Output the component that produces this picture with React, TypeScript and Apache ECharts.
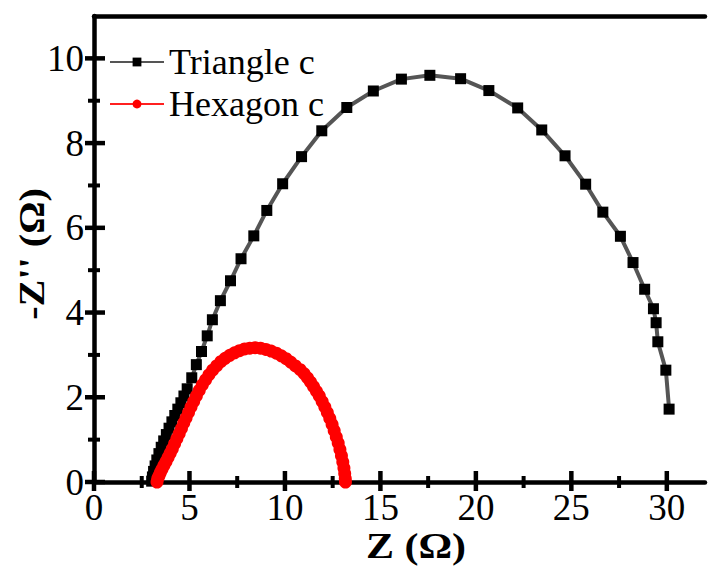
import React, { useEffect, useRef } from "react";
import * as echarts from "echarts";

const xTicks = [0, 5, 10, 15, 20, 25, 30];
const xMinorTicks = [2.5, 7.5, 12.5, 17.5, 22.5, 27.5];
const yTicks = [0, 2, 4, 6, 8, 10];
const yMinorTicks = [1, 3, 5, 7, 9];

const seriesNames = ["Triangle c", "Hexagon c"];

const triangleC: [number, number][] = [
  [3.02, 0.02], [3.06, 0.12], [3.12, 0.25], [3.2, 0.38], [3.29, 0.52], [3.4, 0.67],
  [3.52, 0.82], [3.65, 0.97], [3.79, 1.12], [3.93, 1.27], [4.08, 1.42], [4.23, 1.57],
  [4.39, 1.72], [4.55, 1.87], [4.71, 2.03], [4.88, 2.2], [5.12, 2.46], [5.36, 2.77],
  [5.63, 3.08], [5.93, 3.45], [6.2, 3.83], [6.62, 4.28], [7.15, 4.75], [7.7, 5.27],
  [8.37, 5.81], [9.05, 6.41], [9.88, 7.04], [10.87, 7.68], [11.93, 8.29], [13.24, 8.84],
  [14.63, 9.23], [16.1, 9.51], [17.59, 9.6], [19.2, 9.52], [20.68, 9.24], [22.19, 8.83],
  [23.45, 8.31], [24.67, 7.7], [25.75, 7.03], [26.65, 6.37], [27.57, 5.8], [28.23, 5.18],
  [28.84, 4.55], [29.3, 4.09], [29.44, 3.76], [29.53, 3.31], [29.95, 2.64], [30.12, 1.72],
];

const hexagonC: [number, number][] = [
  [3.3, 0.0], [3.34, 0.08], [3.4, 0.14], [3.47, 0.22], [3.56, 0.3], [3.66, 0.39],
  [3.77, 0.48], [3.88, 0.58], [3.99, 0.68], [4.1, 0.78], [4.22, 0.9], [4.34, 1.02],
  [4.46, 1.14], [4.58, 1.26], [4.7, 1.39], [4.82, 1.51], [4.95, 1.64], [5.08, 1.77],
  [5.22, 1.9], [5.36, 2.03], [5.51, 2.16], [5.67, 2.29], [5.84, 2.41], [6.02, 2.53],
  [6.21, 2.64], [6.42, 2.74], [6.64, 2.84], [6.87, 2.92], [7.11, 2.99], [7.36, 3.05],
  [7.62, 3.1], [7.89, 3.14], [8.16, 3.16], [8.44, 3.17], [8.72, 3.16], [9.0, 3.13],
  [9.28, 3.09], [9.55, 3.04], [9.81, 2.98], [10.06, 2.91], [10.3, 2.83], [10.55, 2.74],
  [10.8, 2.65], [11.0, 2.56], [11.18, 2.46], [11.34, 2.36], [11.5, 2.25], [11.65, 2.14],
  [11.8, 2.03], [11.95, 1.9], [12.09, 1.77], [12.22, 1.64], [12.35, 1.5], [12.47, 1.36],
  [12.58, 1.21], [12.69, 1.06], [12.79, 0.92], [12.88, 0.77], [12.96, 0.62], [13.03, 0.47],
  [13.09, 0.33], [13.13, 0.2], [13.16, 0.08], [13.17, 0.0],
];

const FONT = "'Liberation Serif', 'Times New Roman', serif";

export default function App() {
  const ref = useRef<HTMLDivElement>(null);
  useEffect(() => {
    document.body.style.margin = "0";
    const chart = echarts.init(ref.current!, null, { renderer: "svg" });

    const xMajorData = xTicks.map((v) => [v, 0]);
    const xMinorData = xMinorTicks.map((v) => [v, 0]);
    const yMajorData = yTicks.map((v) => [0, v]);
    const yMinorData = yMinorTicks.map((v) => [0, v]);

    const tickSeries = (data: number[][], size: number[], offset: number[]) => ({
      type: "scatter",
      data,
      symbol: "rect",
      symbolSize: size,
      symbolOffset: offset,
      itemStyle: { color: "#000", opacity: 1 },
      silent: true,
      clip: false,
      z: 6,
      emphasis: { disabled: true },
    });

    const label = {
      show: true,
      color: "#000",
      fontFamily: FONT,
      fontSize: 37,
      showMaxLabel: false,
    };
    chart.setOption({
      animation: false,
      backgroundColor: "#fff",
      grid: { left: 94, right: 3, top: 16, bottom: 93, containLabel: false },
      legend: {
        left: 104,
        top: 39,
        orient: "vertical",
        itemWidth: 54,
        itemHeight: 11,
        itemGap: 6,
        textStyle: { fontFamily: FONT, fontSize: 36, color: "#000", lineHeight: 36 },
        data: seriesNames,
      },
      xAxis: [
        {
          type: "value",
          min: xTicks[0],
          max: 32,
          interval: xTicks[1] - xTicks[0],
          position: "bottom",
          axisLine: { show: true, onZero: false, lineStyle: { color: "#000", width: 4.5 } },
          axisTick: { show: false },
          splitLine: { show: false },
          axisLabel: { ...label, margin: 7 },
        },
        {
          type: "value",
          min: 0,
          max: 32,
          position: "top",
          axisLine: { show: true, onZero: false, lineStyle: { color: "#000", width: 4.5 } },
          axisTick: { show: false },
          axisLabel: { show: false },
          splitLine: { show: false },
        },
      ],
      yAxis: {
        type: "value",
        min: yTicks[0],
        max: 11,
        interval: yTicks[1] - yTicks[0],
        position: "left",
        axisLine: { show: true, onZero: false, lineStyle: { color: "#000", width: 4.5 } },
        axisTick: { show: false },
        splitLine: { show: false },
        axisLabel: { ...label, margin: 10 },
      },
      graphic: [
        {
          type: "text",
          x: 416,
          y: 546,
          scaleX: 1.2,
          style: {
            text: "Z (Ω)",
            fontFamily: FONT,
            fontWeight: "bold",
            fontSize: 35,
            fill: "#000",
            textAlign: "center",
            textVerticalAlign: "middle",
          },
        },
        {
          type: "text",
          x: 32,
          y: 254,
          rotation: Math.PI / 2,
          scaleX: 1.15,
          style: {
            text: "-Z'' (Ω)",
            fontFamily: FONT,
            fontWeight: "bold",
            fontSize: 35,
            fill: "#000",
            textAlign: "center",
            textVerticalAlign: "middle",
          },
        },
      ],
      series: [
        tickSeries(xMajorData, [4.5, 20], [0, -1]),
        tickSeries(xMinorData, [4, 12], [0, 0]),
        tickSeries(yMajorData, [20, 4.5], [1, 0]),
        tickSeries(yMinorData, [12, 4], [0, 0]),
        {
          name: seriesNames[0],
          type: "line",
          data: triangleC,
          symbol: "rect",
          symbolSize: 11,
          showAllSymbol: true,
          itemStyle: { color: "#000" },
          lineStyle: { color: "#555", width: 4 },
          z: 2,
        },
        {
          name: seriesNames[1],
          type: "line",
          data: hexagonC,
          symbol: "circle",
          symbolSize: 13,
          showAllSymbol: true,
          itemStyle: { color: "#ff0000" },
          lineStyle: { color: "#ff2020", width: 4 },
          z: 3,
        },
      ],
    });
    return () => chart.dispose();
  }, []);
  return <div ref={ref} style={{ width: 708, height: 575 }} />;
}
